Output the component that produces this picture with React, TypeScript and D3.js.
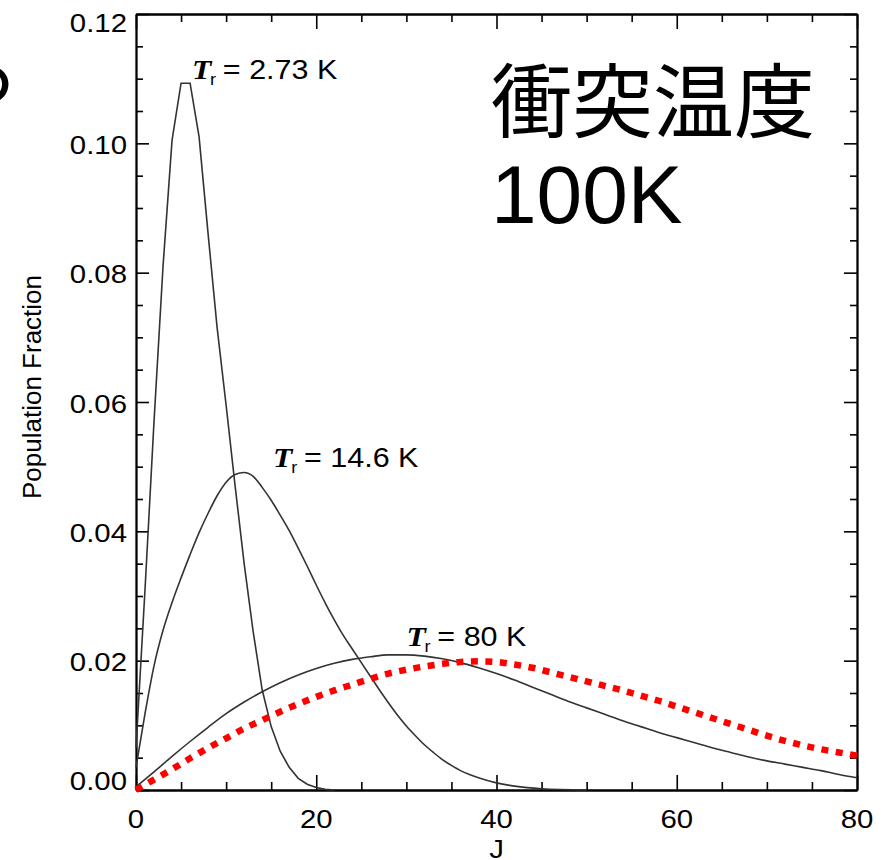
import * as d3 from "d3";
import React, { useEffect, useRef } from "react";

// axis ticks
const xTicks = [0, 20, 40, 60, 80];
const yTicks = [0, 0.02, 0.04, 0.06, 0.08, 0.1, 0.12];

// Tr = 2.73 K (integer J, straight segments)
const j273 = [0, 1, 2, 3, 4, 5, 6, 7, 8, 9, 10, 11, 12, 13, 14, 15, 16, 17, 18, 19, 20, 21, 22];
const pop273 = [
  0.0065, 0.031, 0.057, 0.081, 0.1005, 0.1093, 0.1093, 0.101, 0.086, 0.0715, 0.0595, 0.047,
  0.035, 0.0245, 0.0155, 0.0098, 0.006, 0.0035, 0.0018, 0.0009, 0.0004, 0.0001, 0.0,
];

// Tr = 14.6 K
const j146 = [
  0, 1, 2, 3, 4, 5, 6, 7, 8, 9, 10, 11, 12, 13, 14, 15, 16, 17, 18, 19, 20, 21, 22, 23, 24, 25,
  26, 27, 28, 29, 30, 31, 32, 33, 34, 35, 36, 37, 38, 40, 42, 45, 50,
];
const pop146 = [
  0.0035, 0.0118, 0.0192, 0.0247, 0.029, 0.0328, 0.0364, 0.0398, 0.0428, 0.0455, 0.0476, 0.0488,
  0.0491, 0.0485, 0.0468, 0.0448, 0.0425, 0.0401, 0.0374, 0.0346, 0.0317, 0.0289, 0.0263, 0.0239,
  0.0218, 0.0197, 0.0176, 0.0155, 0.0135, 0.0116, 0.0099, 0.0084, 0.007, 0.0058, 0.0047, 0.0038,
  0.003, 0.0024, 0.0019, 0.0011, 0.0006, 0.0002, 0.0,
];

// Tr = 80 K
const j80 = [
  0, 2, 4, 6, 8, 10, 12, 14, 16, 18, 20, 22, 24, 26, 28, 30, 32, 34, 36, 38, 40, 42, 44, 46, 48,
  50, 52, 54, 56, 58, 60, 62, 64, 66, 68, 70, 72, 74, 76, 78, 80,
];
const pop80 = [
  0.0005, 0.0028, 0.0052, 0.0075, 0.0097, 0.0118, 0.0136, 0.0152, 0.0166, 0.0178, 0.0188, 0.0196,
  0.0202, 0.0206, 0.0209, 0.0209, 0.0207, 0.0203, 0.0197, 0.0189, 0.018, 0.017, 0.0159, 0.0148,
  0.0137, 0.0127, 0.0117, 0.0107, 0.0098, 0.0089, 0.0081, 0.0073, 0.0065, 0.0058, 0.0051, 0.0045,
  0.004, 0.0035, 0.003, 0.0024, 0.0019,
];

// collision temperature 100 K (red dotted)
const j100 = j80;
const pop100 = [
  0.0, 0.0016, 0.0032, 0.0049, 0.0065, 0.008, 0.0095, 0.0108, 0.0121, 0.0133, 0.0144, 0.0154,
  0.0163, 0.0172, 0.018, 0.0186, 0.0191, 0.0195, 0.0198, 0.0199, 0.0198, 0.0194, 0.0189, 0.0182,
  0.0175, 0.0168, 0.0161, 0.0154, 0.0146, 0.0138, 0.0129, 0.012, 0.0111, 0.0102, 0.0093, 0.0084,
  0.0076, 0.0069, 0.0063, 0.0058, 0.0053,
];

const curveNames = ["2.73 K", "14.6 K", "80 K"];

export default function App() {
  const ref = useRef<SVGSVGElement>(null);

  useEffect(() => {
    const svg = d3.select(ref.current);
    svg.selectAll("*").remove();

    const font = "'Liberation Sans', Arial, Helvetica, sans-serif";
    const stretch = 1.13;
    const x = d3.scaleLinear().domain([0, 80]).range([136, 857]);
    const y = d3.scaleLinear().domain([0, 0.12]).range([790, 14]);

    svg.append("rect").attr("width", 890).attr("height", 860).attr("fill", "#fff");

    // frame + inward ticks on all four sides
    const xMinor = d3.range(0, 81, 5).filter((v) => v % 20 !== 0);
    const yMinor = d3.range(0, 0.1201, 0.005).filter((v) => Math.abs(v / 0.02 - Math.round(v / 0.02)) > 0.01);
    const axes = svg.append("g");
    const addAxis = (axis: any, tr: string) => {
      const g = axes.append("g").attr("transform", tr).call(axis);
      g.selectAll("text").remove();
      g.select(".domain").attr("stroke", "#000").attr("stroke-width", 1.8);
      g.selectAll(".tick line").attr("stroke", "#000").attr("stroke-width", 1.6);
    };
    const blank = () => "";
    addAxis(d3.axisBottom(x).tickValues(xTicks).tickSize(-15).tickSizeOuter(0).tickFormat(blank), `translate(0,${y(0)})`);
    addAxis(d3.axisBottom(x).tickValues(xMinor).tickSize(-8).tickSizeOuter(0).tickFormat(blank), `translate(0,${y(0)})`);
    addAxis(d3.axisTop(x).tickValues(xTicks).tickSize(-15).tickSizeOuter(0).tickFormat(blank), `translate(0,${y(0.12)})`);
    addAxis(d3.axisTop(x).tickValues(xMinor).tickSize(-8).tickSizeOuter(0).tickFormat(blank), `translate(0,${y(0.12)})`);
    addAxis(d3.axisLeft(y).tickValues(yTicks).tickSize(-13).tickSizeOuter(0).tickFormat(blank), `translate(${x(0)},0)`);
    addAxis(d3.axisLeft(y).tickValues(yMinor).tickSize(-7).tickSizeOuter(0).tickFormat(blank), `translate(${x(0)},0)`);
    addAxis(d3.axisRight(y).tickValues(yTicks).tickSize(-13).tickSizeOuter(0).tickFormat(blank), `translate(${x(80)},0)`);
    addAxis(d3.axisRight(y).tickValues(yMinor).tickSize(-7).tickSizeOuter(0).tickFormat(blank), `translate(${x(80)},0)`);

    // tick labels
    const fmt = d3.format(".2f");
    yTicks.forEach((v) => {
      const ty = Math.min(Math.max(y(v) + 10.5, 32), 790);
      svg
        .append("text")
        .attr("transform", `translate(127,${ty}) scale(${stretch},1)`)
        .attr("text-anchor", "end")
        .attr("font-family", font)
        .attr("font-size", 26)
        .text(fmt(v));
    });
    xTicks.forEach((v) => {
      svg
        .append("text")
        .attr("transform", `translate(${x(v)},828) scale(${stretch},1)`)
        .attr("text-anchor", "middle")
        .attr("font-family", font)
        .attr("font-size", 26)
        .text(v);
    });
    svg
      .append("text")
      .attr("transform", `translate(${x(40)},858) scale(${stretch},1)`)
      .attr("text-anchor", "middle")
      .attr("font-family", font)
      .attr("font-size", 26)
      .text("J");
    svg
      .append("text")
      .attr("transform", `translate(41,${y(0.06) - 15}) rotate(-90)`)
      .attr("text-anchor", "middle")
      .attr("font-family", font)
      .attr("font-size", 26)
      .text("Population Fraction");

    // curves
    const line = (curve: any) =>
      d3
        .line<[number, number]>()
        .curve(curve)
        .x((d) => x(d[0]))
        .y((d) => y(d[1]));
    const zip = (js: number[], vs: number[]) => js.map((j, i) => [j, vs[i]] as [number, number]);

    const plot = svg.append("g").attr("fill", "none");
    plot.append("path").attr("d", line(d3.curveLinear)(zip(j273, pop273))).attr("stroke", "#333").attr("stroke-width", 1.6);
    plot.append("path").attr("d", line(d3.curveMonotoneX)(zip(j146, pop146))).attr("stroke", "#333").attr("stroke-width", 1.6);
    plot.append("path").attr("d", line(d3.curveMonotoneX)(zip(j80, pop80))).attr("stroke", "#333").attr("stroke-width", 1.6);
    plot
      .append("path")
      .attr("d", line(d3.curveMonotoneX)(zip(j100, pop100)))
      .attr("stroke", "#ff0000")
      .attr("stroke-width", 6.5)
      .attr("stroke-dasharray", "7,7.5");

    // curve labels
    const anchors = [
      [6.2, 0.11],
      [15.2, 0.05],
      [30.0, 0.0222],
    ];
    curveNames.forEach((name, i) => {
      const t = svg
        .append("text")
        .attr("transform", `translate(${x(anchors[i][0])},${y(anchors[i][1])}) scale(${stretch},1)`)
        .attr("font-family", font)
        .attr("font-size", 27)
        .attr("fill", "#000");
      t.append("tspan")
        .attr("font-family", "'Liberation Serif', 'Times New Roman', serif")
        .attr("font-weight", "bold")
        .attr("font-style", "italic")
        .attr("font-size", 28)
        .text("T");
      t.append("tspan").attr("font-size", 16).attr("dy", 6).attr("dx", -1).text("r");
      t.append("tspan").attr("dy", -6).attr("dx", 6).text(`= ${name}`);
    });

    // Japanese overlay
    const jp = "'Noto Sans CJK JP', 'Noto Sans CJK SC', sans-serif";
    svg.append("text").attr("x", 491).attr("y", 131).attr("font-family", jp).attr("font-size", 81).text("衝突温度");
    svg.append("text").attr("x", 491).attr("y", 223).attr("font-family", font).attr("font-size", 82).text("100K");
    svg.append("text").attr("x", -60).attr("y", 101).attr("font-family", jp).attr("font-size", 80).text("る");
  }, []);

  return (
    <svg
      ref={ref}
      width={890}
      height={860}
      style={{ position: "absolute", left: 0, top: 0, display: "block" }}
    />
  );
}
